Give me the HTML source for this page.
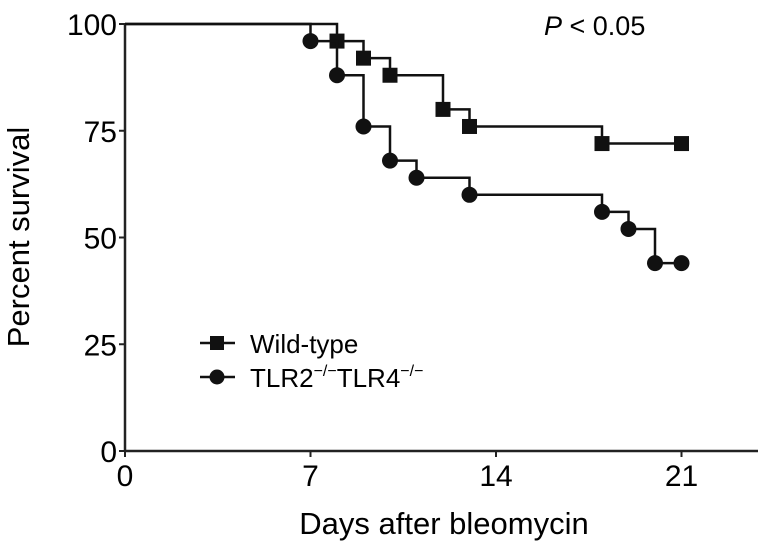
<!DOCTYPE html>
<html><head><meta charset="utf-8"><style>
body{margin:0;background:#fff}
svg{display:block;font-family:"Liberation Sans",Arial,sans-serif}
</style></head><body>
<svg width="764" height="555" viewBox="0 0 764 555">
<g id="plot"></g>
<text x="29" y="237" font-size="31" text-anchor="middle" transform="rotate(-90 29 237)">Percent survival</text>
<text x="444" y="534" font-size="31" text-anchor="middle">Days after bleomycin</text>
<text x="544" y="35" font-size="27"><tspan font-style="italic">P</tspan> &lt; 0.05</text>
<g>
<line x1="200" y1="343" x2="235" y2="343" stroke="#111" stroke-width="2.5"/>
<rect x="210" y="336" width="14" height="14" fill="#111"/>
<text x="250" y="353" font-size="26">Wild-type</text>
<line x1="200" y1="377" x2="235" y2="377" stroke="#111" stroke-width="2.5"/>
<circle cx="217" cy="377" r="7.5" fill="#111"/>
<text x="250" y="387" font-size="26">TLR2<tspan font-size="16" dy="-11">−/−</tspan><tspan dy="11">TLR4</tspan><tspan font-size="16" dy="-11">−/−</tspan></text>
</g>
</svg>
<script>
const xTicks=[0,7,14,21];
const yTicks=[0,25,50,75,100];
const wtDays=[0,8,9,10,12,13,18,21];
const wtSurv=[100,96,92,88,80,76,72,72];
const koDays=[0,7,8,9,10,11,13,18,19,20,21];
const koSurv=[100,96,88,76,68,64,60,56,52,44,44];
const X0=125,XS=26.5,Y0=451,YS=4.27;
const xs=d=>X0+d*XS, ys=v=>Y0-v*YS;
const NS='http://www.w3.org/2000/svg';
const g=document.getElementById('plot');
function mk(t,a){const e=document.createElementNS(NS,t);for(const k in a)e.setAttribute(k,a[k]);g.appendChild(e);return e;}
let e=mk('line',{x1:X0,y1:ys(100),x2:X0,y2:Y0+1,stroke:'#222','stroke-width':2.5});


e=mk('line',{x1:X0-1,y1:Y0,x2:758,y2:Y0,stroke:'#222','stroke-width':2.5});


yTicks.forEach(v=>{
 let t=mk('line',{x1:X0-6,y1:ys(v),x2:X0,y2:ys(v),stroke:'#222','stroke-width':2});
 
 
 let l=mk('text',{x:X0-8,y:ys(v)+11,'font-size':30,'text-anchor':'end'});l.textContent=v;
 
 
});
xTicks.forEach(d=>{
 let t=mk('line',{x1:xs(d),y1:Y0,x2:xs(d),y2:Y0+6,stroke:'#222','stroke-width':2});
 
 
 let l=mk('text',{x:xs(d),y:Y0+35,'font-size':30,'text-anchor':'middle'});l.textContent=d;
 
 
});
function series(days,surv,name,shape){
 let p='M'+xs(days[0])+' '+ys(surv[0]);
 for(let i=1;i<days.length;i++){p+=' H'+xs(days[i])+' V'+ys(surv[i]);}
 let l=mk('path',{d:p,fill:'none',stroke:'#111','stroke-width':2.5});
 
 
 for(let i=1;i<days.length;i++){
  let m;
  if(shape==='square')m=mk('rect',{x:xs(days[i])-7.5,y:ys(surv[i])-7.5,width:15,height:15,fill:'#111'});
  else m=mk('circle',{cx:xs(days[i]),cy:ys(surv[i]),r:8,fill:'#111'});
  
  
 }
}
series(wtDays,wtSurv,'wild-type','square');
series(koDays,koSurv,'tlr2-tlr4-knockout','circle');
</script>
</body></html>
